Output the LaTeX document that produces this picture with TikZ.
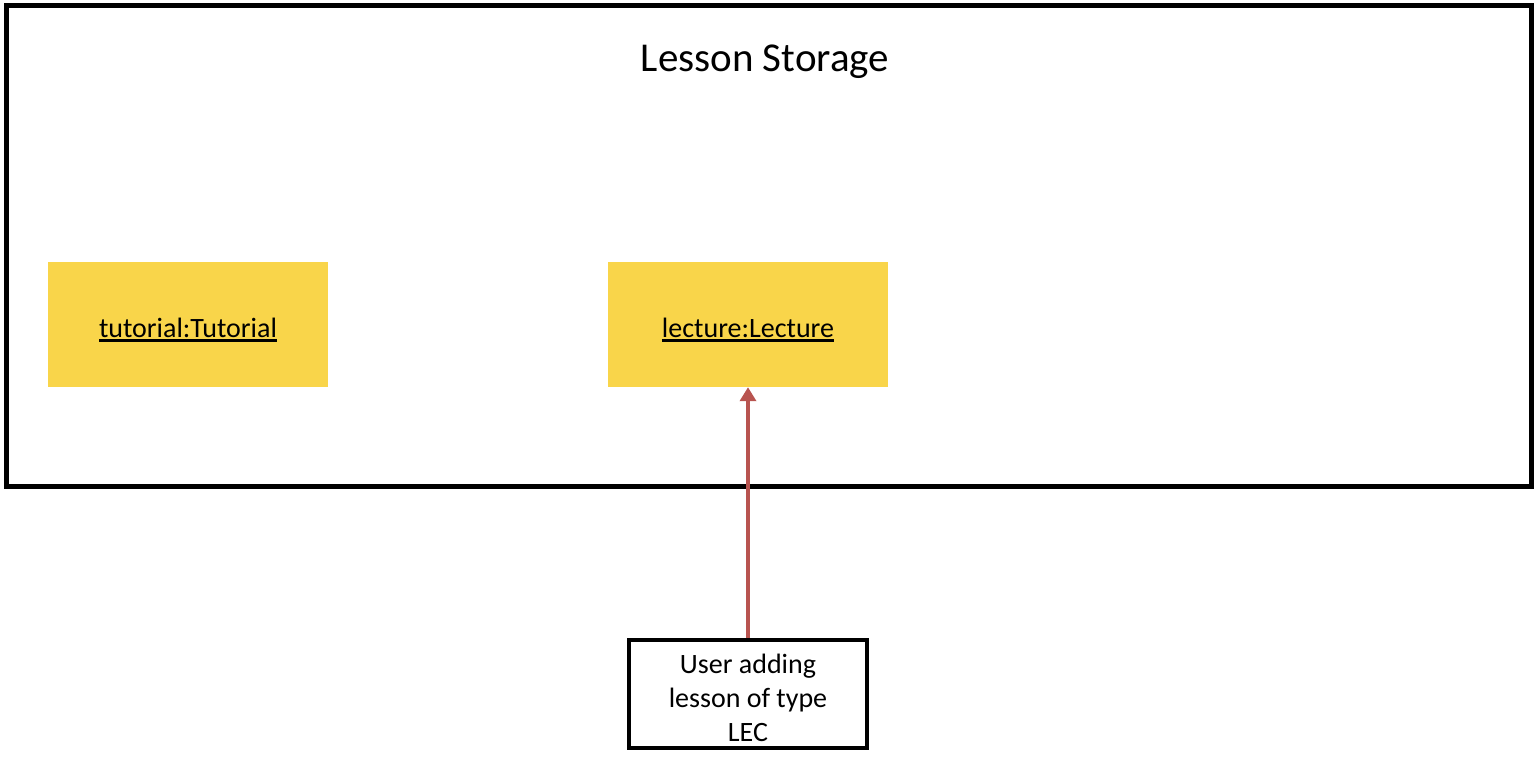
\documentclass[tikz,border=0pt]{standalone}
\usepackage{fontspec}
\setmainfont{Carlito}
\usetikzlibrary{arrows.meta}
\usetikzlibrary{positioning}
\definecolor{objyellow}{RGB}{249,213,74}
\definecolor{addred}{RGB}{184,84,80}
\tikzstyle{frame} = [draw, line width = 4.5pt]
\tikzstyle{object} = [fill = objyellow, minimum width = 280pt, minimum height = 125pt, inner sep = 0pt, text height = 25pt, text depth = 0pt, font = \fontsize{28}{34}\selectfont]
\tikzstyle{note} = [draw, line width = 4pt, minimum width = 238pt, minimum height = 108pt, inner sep = 0pt, align = center, font = \fontsize{28}{34}\selectfont]
\tikzstyle{arrow} = [draw = addred, line width = 4pt, -{Triangle[length = 14pt, width = 16pt]}]
\newcommand{\objname}[1]{\leavevmode\vtop{\hbox{#1}\kern2pt\hrule height 3pt}}

\begin{document}
\begin{tikzpicture}[x = 1pt, y = -1pt]
	\useasboundingbox (0, 0) rectangle (1538, 760);
	
	% Storage frame
	\draw[frame] (6.5, 5.5) rectangle (1531.5, 486.5);
	\node[font = \fontsize{41}{48}\selectfont, anchor = base] (title) at (765, 71) {Lesson Storage};
	
	% Lesson objects
	\node[object] (tutorial) at (188, 324.5) {\objname{tutorial:Tutorial}};
	\node[object] (lecture) at (748, 324.5) {\objname{lecture:Lecture}};
	
	% User input
	\node[note] (input) at (748, 694) {\rule{0pt}{27pt}User adding\\lesson of type\\LEC};
	
	% Connect
	\draw[arrow] (input.north) -- (lecture.south);
	
\end{tikzpicture}
\end{document}
